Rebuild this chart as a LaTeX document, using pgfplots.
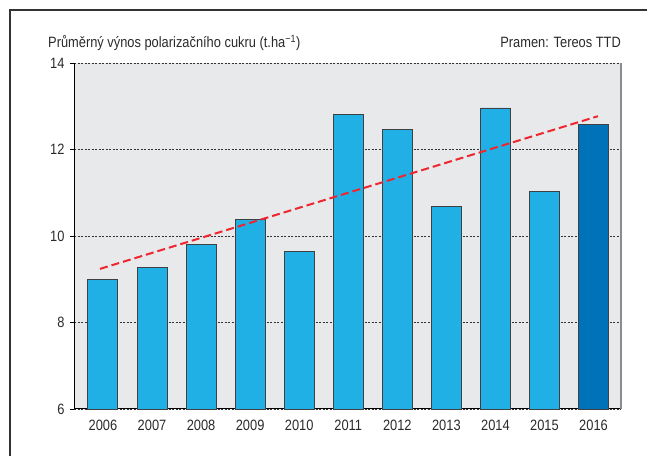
\documentclass[border=0pt]{standalone}
\usepackage{fontspec}
\setmainfont{Liberation Sans}[FakeStretch=0.86]
\usepackage{pgfplots}
\pgfplotsset{compat=1.18}
\definecolor{bgc}{HTML}{E8E9EB}
\definecolor{barc}{HTML}{21B0E5}
\definecolor{bard}{HTML}{0072B9}
\definecolor{trend}{HTML}{EE2630}
\definecolor{txt}{HTML}{2A2A2A}
\begin{document}
\begin{tikzpicture}[x=1bp,y=1bp]
\useasboundingbox (0,0) rectangle (647,456);
\draw[line width=1.2bp, color=black!80] (10,0) -- (10,446) -- (647,446);
\node[anchor=base west, inner sep=0pt, text=txt, font=\fontsize{15}{17}\selectfont] at (48,408) {Průměrný výnos polarizačního cukru (t.ha\textsuperscript{−1})};
\node[anchor=base east, inner sep=0pt, text=txt, font=\fontsize{15}{17}\selectfont] at (621,408) {Pramen: Tereos TTD};
\begin{axis}[at={(74bp,47bp)}, anchor=south west, width=547bp, height=346bp, scale only axis,
  xmin=-0.59, xmax=10.56, ymin=6, ymax=14,
  ytick={6,8,10,12,14},
  xtick={0,1,2,3,4,5,6,7,8,9,10},
  xticklabels={2006,2007,2008,2009,2010,2011,2012,2013,2014,2015,2016},
  axis x line*=bottom, axis y line*=left,
  axis line style={black, line width=1bp, -},
  axis background/.style={fill=bgc},
  ymajorgrids, grid style={black!80, line width=0.6bp, dash pattern=on 2bp off 1.5bp},
  tick align=outside, major tick length=4bp,
  xtick style={draw=none},
  ytick style={black, line width=0.8bp},
  tick label style={text=txt, font=\fontsize{15}{17}\selectfont},
  xticklabel style={yshift=-4bp},
  yticklabel style={xshift=-2bp},
  /pgf/number format/assume math mode=true,
  clip=false,
]
\addplot[ybar, bar width=30bp, bar shift=0pt, fill=barc, draw=black!75, line width=0.9bp]
  coordinates {(0,9.00) (1,9.28) (2,9.81) (3,10.39) (4,9.65) (5,12.82) (6,12.47) (7,10.69) (8,12.96) (9,11.02)};
\addplot[ybar, bar width=30bp, bar shift=0pt, fill=bard, draw=black!75, line width=0.9bp]
  coordinates {(10,12.57)};
\addplot[trend, line width=2bp, dash pattern=on 8bp off 4bp, mark=none]
  coordinates {(-0.06,9.24) (10.09,12.77)};
\draw[black!45, line width=1.5bp] (rel axis cs:1,0) -- (rel axis cs:1,1);
\end{axis}
\end{tikzpicture}
\end{document}
